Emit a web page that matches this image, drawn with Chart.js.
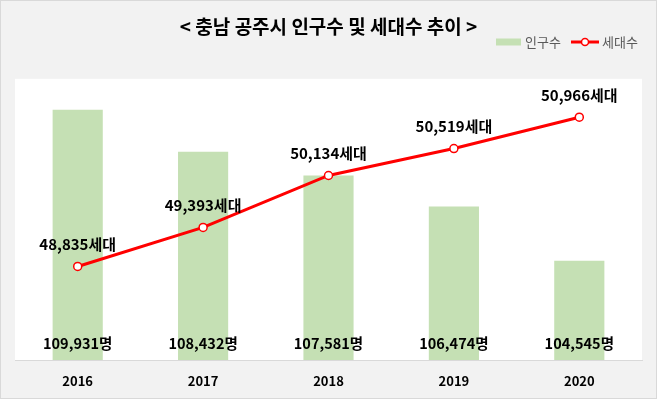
<!DOCTYPE html>
<html>
<head>
  <title>충남 공주시 인구수 및 세대수 추이</title>
  <script src="https://cdn.jsdelivr.net/npm/chart.js"></script>
  <style>
    html, body { margin: 0; padding: 0; background: #f2f2f2; }
    #wrap { width: 657px; height: 399px; }
  </style>
</head>
<body>
  <div id="wrap"><canvas id="popChart" width="657" height="399"></canvas></div>

  <script>
    const years = ['2016', '2017', '2018', '2019', '2020'];
    const population = [109931, 108432, 107581, 106474, 104545];
    const households = [48835, 49393, 50134, 50519, 50966];
    const popLabel = '인구수';
    const hhLabel = '세대수';

    const FONT = "'Noto Sans CJK KR', 'Noto Sans', sans-serif";
    const fmt = n => n.toLocaleString('en-US');

    // background, frame, value labels and legend
    const decor = {
      id: 'decor',
      beforeDraw(chart) {
        const { ctx, chartArea: a, width, height } = chart;
        ctx.save();
        ctx.fillStyle = '#f2f2f2';
        ctx.fillRect(0, 0, width, height);
        ctx.strokeStyle = '#d9d9d9';
        ctx.lineWidth = 1;
        ctx.strokeRect(0.5, 0.5, width - 1, height - 1);
        ctx.fillStyle = '#ffffff';
        ctx.fillRect(a.left, a.top - 1, a.right - a.left, a.bottom - a.top + 1);
        ctx.restore();
      },
      afterDraw(chart) {
        const { ctx, chartArea: a } = chart;
        ctx.save();
        ctx.textAlign = 'center';
        ctx.textBaseline = 'middle';
        ctx.fillStyle = '#000000';

        ctx.font = 'bold 14.5px ' + FONT;
        chart.getDatasetMeta(1).data.forEach((bar, i) => {
          ctx.fillText(fmt(population[i]) + '명', bar.x, a.bottom - 17);
        });
        ctx.font = 'bold 15px ' + FONT;
        chart.getDatasetMeta(0).data.forEach((pt, i) => {
          ctx.fillText(fmt(households[i]) + '세대', pt.x, pt.y - 22);
        });

        // legend
        const ly = 42;
        ctx.font = '13px ' + FONT;
        ctx.textAlign = 'left';
        ctx.fillStyle = '#c5e0b4';
        ctx.fillRect(496, ly - 3.5, 25, 7);
        ctx.fillStyle = '#595959';
        ctx.fillText(popLabel, 525, ly);

        ctx.strokeStyle = '#ff0000';
        ctx.lineWidth = 3;
        ctx.beginPath();
        ctx.moveTo(571, ly);
        ctx.lineTo(599, ly);
        ctx.stroke();
        ctx.beginPath();
        ctx.arc(585, ly, 3.5, 0, Math.PI * 2);
        ctx.fillStyle = '#ffffff';
        ctx.fill();
        ctx.lineWidth = 1.5;
        ctx.stroke();
        ctx.fillStyle = '#595959';
        ctx.fillText(hhLabel, 602, ly);
        ctx.restore();
      }
    };

    const ctx = document.getElementById('popChart').getContext('2d');
    new Chart(ctx, {
      data: {
        labels: years,
        datasets: [
          {
            type: 'line',
            label: hhLabel,
            data: households,
            yAxisID: 'yLine',
            borderColor: '#ff0000',
            borderWidth: 3,
            pointRadius: 4,
            pointBackgroundColor: '#ffffff',
            pointBorderColor: '#ff0000',
            pointBorderWidth: 1.5,
            tension: 0,
            order: 0
          },
          {
            type: 'bar',
            label: popLabel,
            data: population,
            yAxisID: 'yBar',
            backgroundColor: '#c5e0b4',
            barPercentage: 0.4,
            categoryPercentage: 1,
            order: 1
          }
        ]
      },
      options: {
        responsive: false,
        animation: false,
        layout: { padding: { left: 15, right: 15, top: 0, bottom: 0 } },
        plugins: {
          legend: { display: false },
          tooltip: { enabled: false },
          title: {
            display: true,
            text: '< 충남 공주시 인구수 및 세대수 추이 >',
            color: '#000000',
            font: { family: FONT, size: 19, weight: 'bold', lineHeight: 1.2 },
            padding: { top: 15, bottom: 42 }
          }
        },
        scales: {
          x: {
            grid: { display: false, drawTicks: false },
            border: { display: true, color: '#d9d9d9', width: 1 },
            ticks: {
              color: '#000000',
              padding: 13,
              font: { family: FONT, size: 13, weight: 'bold' }
            },
            afterFit(scale) { scale.height = 39; }
          },
          yBar: { display: false, min: 101000, max: 111000 },
          yLine: { display: false, min: 47500, max: 51500 }
        }
      },
      plugins: [decor]
    });
  </script>
</body>
</html>
